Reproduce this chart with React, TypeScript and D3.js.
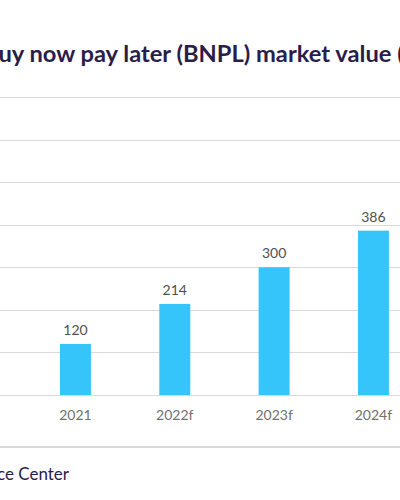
import React from "react";
import * as d3 from "d3";

const categories = ["2021", "2022f", "2023f", "2024f"];
const values = [120, 214, 300, 386];
const gridTicks = [0, 100, 200, 300, 400, 500, 600, 700];
const titleText = "Buy now pay later (BNPL) market value (US$ billion)";
const footerText = "Finance Center";

const W = 400;
const H = 500;

export default function App() {
  const x = d3
    .scaleBand<string>()
    .domain(categories)
    .range([25.8, 423.1])
    .paddingInner(0.688)
    .paddingOuter(0.344);
  const y = d3.scaleLinear().domain([0, 700]).range([395, 97]);
  const font = "Lato, 'Open Sans', sans-serif";

  return (
    <div style={{ position: "fixed", left: 0, top: 0 }}>
      <svg width={W} height={H} style={{ display: "block", background: "#fff" }}>
        <text
          x={-17}
          y={62}
          fontFamily={font}
          fontWeight={700}
          fontSize={23.7}
          fill="#2b1d4a"
        >
          {titleText}
        </text>
        {gridTicks.map((t) => (
          <line
            key={t}
            x1={0}
            x2={W}
            y1={Math.round(y(t)) + 0.5}
            y2={Math.round(y(t)) + 0.5}
            stroke="#d9d9d9"
            strokeWidth={1}
          />
        ))}
        {categories.map((c, i) => (
          <g key={c}>
            <rect
              x={x(c)}
              y={y(values[i])}
              width={x.bandwidth()}
              height={y(0) - y(values[i])}
              fill="#36c5fb"
            />
            <text
              x={(x(c) as number) + x.bandwidth() / 2}
              y={y(values[i]) - 9}
              textAnchor="middle"
              fontFamily={font}
              fontSize={14}
              fill="#505050"
            >
              {values[i]}
            </text>
            <text
              x={(x(c) as number) + x.bandwidth() / 2}
              y={420}
              textAnchor="middle"
              fontFamily={font}
              fontSize={14}
              fill="#707070"
            >
              {c}
            </text>
          </g>
        ))}
        <line x1={0} x2={W} y1={447} y2={447} stroke="#d9d9d9" strokeWidth={2} />
        <text
          x={69}
          y={480}
          textAnchor="end"
          fontFamily={font}
          fontSize={17}
          fill="#2b1d4a"
        >
          {footerText}
        </text>
      </svg>
    </div>
  );
}
